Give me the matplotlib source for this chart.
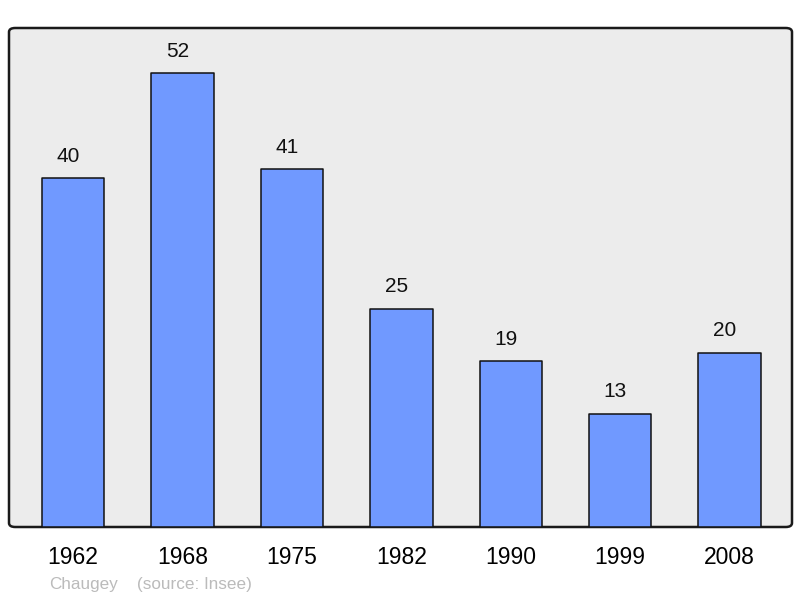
import matplotlib
matplotlib.use("Agg")
import matplotlib.pyplot as plt
from matplotlib.patches import FancyBboxPatch

plt.rcParams["font.family"] = ["Liberation Sans", "DejaVu Sans"]

years = ["1962", "1968", "1975", "1982", "1990", "1999", "2008"]
population = [40, 52, 41, 25, 19, 13, 20]
commune = "Chaugey"
source = "(source: Insee)"

fig = plt.figure(figsize=(8, 5.98), dpi=100)
ax = fig.add_axes([9 / 800, 71 / 598, 783 / 800, 499 / 598])

ax.set_facecolor("none")
frame = FancyBboxPatch((0, 0), 1, 1, boxstyle="round,pad=0,rounding_size=0.008",
                       transform=ax.transAxes, facecolor="#ececec",
                       edgecolor="#1a1a1a", linewidth=1.8, zorder=0, clip_on=False)
ax.add_patch(frame)

x = list(range(len(years)))
bars = ax.bar(x, population, width=0.57, color="#7099ff", edgecolor="#111111",
              linewidth=1.1, zorder=2, joinstyle="round")

for xi, v in zip(x, population):
    ax.annotate(str(v), (xi, v), xytext=(-3.5, 9), textcoords="offset points",
                ha="center", va="bottom", fontsize=15, color="#111111")

ax.set_xlim(-0.585, 6.57)
ax.set_ylim(0, 57.2)
ax.set_xticks(x)
ax.set_xticklabels(years, fontsize=16.5)
ax.tick_params(axis="x", length=0, pad=13.5)
ax.set_yticks([])
for s in ax.spines.values():
    s.set_visible(False)

fig.text(49 / 800, 1 - 584 / 598, commune, fontsize=12.3, color="#bbbbbb",
         ha="left", va="center")
fig.text(137 / 800, 1 - 584 / 598, source, fontsize=12.3, color="#bbbbbb",
         ha="left", va="center")

fig.savefig("out.png", dpi=100, facecolor="white")
